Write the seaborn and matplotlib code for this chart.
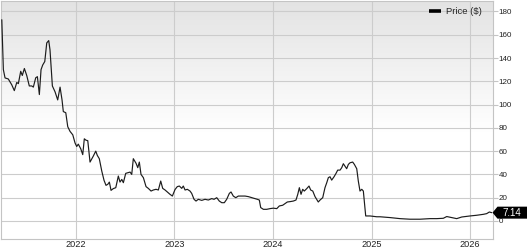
import numpy as np
import pandas as pd
import matplotlib
matplotlib.use("Agg")
import matplotlib.pyplot as plt
import seaborn as sns
from matplotlib.colors import LinearSegmentedColormap
from matplotlib.lines import Line2D
from matplotlib.patches import Polygon

# ---- data (decimal year, price in $) ----
years = [
    2021.250, 2021.266, 2021.283, 2021.316, 2021.351, 2021.377, 2021.402, 2021.418,
    2021.442, 2021.458, 2021.479, 2021.503, 2021.529, 2021.554, 2021.570, 2021.594,
    2021.611, 2021.631, 2021.648, 2021.665, 2021.686, 2021.706, 2021.726, 2021.739,
    2021.763, 2021.790, 2021.817, 2021.841, 2021.861, 2021.874, 2021.899, 2021.919,
    2021.942, 2021.970, 2021.993, 2022.010, 2022.026, 2022.051, 2022.071, 2022.087,
    2022.104, 2022.122, 2022.145, 2022.178, 2022.203, 2022.219, 2022.239, 2022.264,
    2022.287, 2022.307, 2022.325, 2022.341, 2022.358, 2022.381, 2022.406, 2022.432,
    2022.449, 2022.467, 2022.483, 2022.507, 2022.533, 2022.551, 2022.568, 2022.584,
    2022.612, 2022.629, 2022.645, 2022.662, 2022.686, 2022.713, 2022.736, 2022.764,
    2022.787, 2022.814, 2022.838, 2022.862, 2022.882, 2022.906, 2022.929, 2022.956,
    2022.980, 2023.007, 2023.030, 2023.051, 2023.075, 2023.091, 2023.109, 2023.132,
    2023.159, 2023.176, 2023.200, 2023.220, 2023.243, 2023.278, 2023.311, 2023.345,
    2023.379, 2023.403, 2023.430, 2023.456, 2023.481, 2023.507, 2023.531, 2023.558,
    2023.575, 2023.598, 2023.623, 2023.649, 2023.684, 2023.717, 2023.751, 2023.785,
    2023.818, 2023.842, 2023.862, 2023.876, 2023.903, 2023.937, 2023.971, 2024.004,
    2024.039, 2024.065, 2024.099, 2024.123, 2024.146, 2024.173, 2024.207, 2024.234,
    2024.252, 2024.268, 2024.285, 2024.302, 2024.318, 2024.343, 2024.366, 2024.383,
    2024.404, 2024.427, 2024.460, 2024.478, 2024.505, 2024.528, 2024.546, 2024.562,
    2024.579, 2024.596, 2024.620, 2024.640, 2024.657, 2024.681, 2024.698, 2024.714,
    2024.731, 2024.748, 2024.765, 2024.782, 2024.809, 2024.826, 2024.850, 2024.866,
    2024.883, 2024.901, 2024.917, 2024.941, 2024.985, 2025.053, 2025.086, 2025.188,
    2025.289, 2025.390, 2025.492, 2025.593, 2025.661, 2025.728, 2025.763, 2025.813,
    2025.864, 2025.915, 2025.999, 2026.067, 2026.134, 2026.168, 2026.195, 2026.219,
]
prices = [
    172.9, 130.0, 122.9, 122.0, 117.0, 112.0, 119.0, 118.0,
    128.6, 125.0, 131.0, 125.0, 116.0, 116.0, 115.0, 123.0,
    124.0, 108.6, 130.0, 134.0, 137.0, 153.0, 155.0, 147.0,
    116.0, 111.0, 104.0, 115.0, 104.0, 94.0, 93.0, 81.0,
    77.0, 74.0, 67.0, 64.0, 66.0, 62.0, 57.0, 70.6,
    69.4, 69.0, 50.6, 55.7, 60.0, 56.3, 53.5, 42.9,
    34.9, 30.6, 31.5, 33.4, 26.3, 27.8, 28.6, 38.6,
    33.4, 35.7, 32.9, 40.9, 41.5, 42.0, 40.0, 53.5,
    49.5, 45.8, 50.6, 40.0, 37.2, 29.5, 28.0, 25.7,
    26.6, 27.2, 26.6, 34.3, 28.0, 26.6, 24.9, 22.9,
    21.4, 27.0, 29.5, 30.0, 28.0, 30.0, 26.6, 27.2,
    25.7, 23.7, 18.6, 17.1, 18.6, 17.7, 18.6, 18.0,
    19.2, 18.6, 20.0, 17.1, 15.7, 15.7, 18.6, 23.7,
    24.9, 21.4, 20.0, 21.4, 21.4, 21.4, 20.9, 20.0,
    19.2, 18.6, 18.0, 11.5, 10.0, 10.0, 10.6, 11.0,
    10.6, 12.9, 13.5, 14.9, 16.3, 16.6, 17.1, 18.0,
    22.9, 28.6, 22.9, 27.2, 25.7, 27.8, 30.0, 26.6,
    25.7, 20.9, 16.3, 18.0, 20.0, 28.6, 32.9, 37.2,
    38.0, 35.1, 38.0, 40.9, 43.7, 43.7, 45.8, 49.2,
    47.1, 44.9, 48.6, 50.0, 50.6, 48.6, 44.9, 34.3,
    25.7, 27.2, 25.7, 4.3, 4.3, 3.6, 3.6, 2.9,
    2.0, 1.5, 1.5, 2.0, 2.0, 2.3, 3.8, 2.9,
    2.0, 3.4, 4.3, 4.9, 5.7, 6.3, 7.7, 7.14,
]
year_ticks = [2022, 2023, 2024, 2025, 2026]
year_labels = ["2022", "2023", "2024", "2025", "2026"]
price_ticks = [0, 20, 40, 60, 80, 100, 120, 140, 160, 180]
price_labels = ["0", "20", "40", "60", "80", "100", "120", "140", "160", "180"]
legend_label = "Price ($)"
last_label = "7.14"

sns.set_style("white")
plt.rcParams['font.family'] = ['Liberation Sans', 'DejaVu Sans']

W, H = 527, 250
fig = plt.figure(figsize=(W / 100, H / 100), dpi=100)
fig.patch.set_facecolor("white")
ax = fig.add_axes([1 / W, 11 / H, 491.5 / W, 238 / H])

df = pd.DataFrame({"year": years, "price": prices})
sns.lineplot(data=df, x="year", y="price", ax=ax, color="#1c1c1c",
             linewidth=0.85, estimator=None, sort=False, legend=False, zorder=3)

xlim = (2021.242, 2026.227)
ylim = (-15.5, 189)
ax.set_xlim(xlim)
ax.set_ylim(ylim)

# background gradient (gray at top fading to white)
t = np.linspace(0, 1, 256)
grad = np.clip(1 - t / 0.55, 0, 1).reshape(-1, 1)
cmap = LinearSegmentedColormap.from_list("bg", ["#ffffff", "#e3e3e3"])
ax.imshow(grad, extent=[xlim[0], xlim[1], ylim[0], ylim[1]], aspect="auto",
          cmap=cmap, vmin=0, vmax=1, zorder=0, interpolation="bilinear")
ax.set_xlim(xlim)
ax.set_ylim(ylim)

ax.set_xticks(year_ticks)
ax.set_xticklabels(year_labels)
ax.set_yticks(price_ticks)
ax.set_yticklabels(price_labels)
ax.set_axisbelow(True)
ax.grid(True, color="#cccccc", linewidth=0.8)
for s in ax.spines.values():
    s.set_visible(True)
    s.set_color("#c4c4c4")
    s.set_linewidth(0.8)

ax.yaxis.tick_right()
ax.tick_params(axis="y", right=True, left=False, length=3.6, width=0.8,
               color="#c4c4c4", pad=1, labelsize=5.8, labelcolor="#222222")
ax.tick_params(axis="x", bottom=True, length=0, pad=0.4, labelsize=6.6,
               labelcolor="#222222")
ax.set_xlabel("")
ax.set_ylabel("")

handle = Line2D([0], [0], color="black", lw=2.6, solid_capstyle="butt")
ax.legend(handles=[handle], labels=[legend_label], loc="center right",
          bbox_to_anchor=(0.979, 0.954), frameon=False, fontsize=6.8,
          handlelength=1.3, handletextpad=0.55, borderpad=0, borderaxespad=0)

# last price tag
fig.canvas.draw()
tip = ax.transData.transform((xlim[1], prices[-1]))
tx, ty = tip
hh = 6.0
pts_px = [(tx, ty), (tx + 5, ty + hh), (W, ty + hh), (W, ty - hh), (tx + 5, ty - hh)]
pts_fig = fig.transFigure.inverted().transform(pts_px)
poly = Polygon(pts_fig, closed=True, facecolor="black", edgecolor="none",
               transform=fig.transFigure, clip_on=False, zorder=10)
fig.add_artist(poly)
fig.text(511.7 / W, ty / H, last_label, color="white", ha="center", va="center",
         fontsize=7, zorder=11)

fig.savefig("out.png", dpi=100)
